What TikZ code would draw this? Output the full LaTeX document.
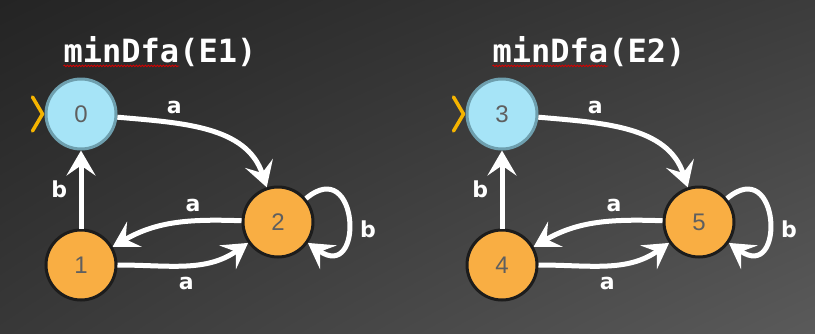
\documentclass[tikz,border=0pt]{standalone}
\usepackage{fontspec}
\setmainfont{Liberation Sans}
\newfontfamily\chalk{DejaVu Sans}
\newfontfamily\chalkmono{DejaVu Sans Mono}
\usepackage{xcolor}
\usetikzlibrary{arrows.meta,calc,shadings,decorations.pathmorphing}
\definecolor{boardTL}{HTML}{242424}
\definecolor{boardTR}{HTML}{3C3C3C}
\definecolor{boardBL}{HTML}{383838}
\definecolor{boardBR}{HTML}{5A5A5A}
\definecolor{ifill}{HTML}{A6E4F7}
\definecolor{iedge}{HTML}{6E9FAE}
\definecolor{qfill}{HTML}{F9AE43}
\definecolor{qedge}{HTML}{1C1C1C}
\definecolor{qtext}{HTML}{5F5F5F}
\definecolor{startc}{HTML}{F5B400}

\begin{document}
\begin{tikzpicture}[x=1pt,y=1pt,
  q/.style={circle,draw=qedge,fill=qfill,line width=3pt,minimum size=70pt,inner sep=0pt,text=qtext,font=\fontsize{24}{24}\selectfont},
  q0/.style={q,draw=iedge,fill=ifill},
  arr/.style={-{Stealth[length=25pt,width=29pt,inset=10pt]},line width=5pt,draw=white},
  lbl/.style={text=white,font=\chalk\bfseries\fontsize{22}{22}\selectfont},
  ttl/.style={text=white,inner sep=0pt,font=\chalkmono\bfseries\fontsize{32}{32}\selectfont},
  ini/.style={draw=startc,line width=3.5pt,line cap=round,line join=round},
  squig/.style={draw=red!85!black,line width=0.8pt,decorate,decoration={snake,amplitude=0.8pt,segment length=3pt}}]
\useasboundingbox (0,0) rectangle (815,-333);
\shade[upper left=boardTL,upper right=boardTR,lower left=boardBL,lower right=boardBR] (0,0) rectangle (815,-333);
% first automaton
\node[ttl] (t1) at (160,-52) {minDfa(E1)};
\draw[squig] ($(t1.base west)+(0,-3)$) -- ($(t1.base west)!0.6!(t1.base east)+(0,-3)$);
\node[q0] (s0) at (81,-114) {0};
\node[q] (s1) at (81,-265) {1};
\node[q] (s2) at (278,-222) {2};
\draw[ini] ([shift={(-12,17)}]s0.west) -- ([xshift=-2pt]s0.west) -- ([shift={(-12,-17)}]s0.west);
\draw[arr] (s0) to[out=-5,in=108] node[lbl,pos=.3,above=4pt] (l02) {a} (s2);
\draw[arr] (s1) -- node[lbl,left=8pt] (l10) {b} (s0);
\draw[arr] (s2) to[out=178,in=30] node[lbl,pos=.35,above=3pt] (l21) {a} (s1);
\draw[arr] (s1) to[out=0,in=215] node[lbl,below=6pt] (l12) {a} (s2);
\draw[arr] (s2) to[out=40,in=-35,looseness=4] node[lbl,right=6pt,yshift=-10pt] (l22) {b} (s2);
% second automaton
\node[ttl] (t2) at (589,-52) {minDfa(E2)};
\draw[squig] ($(t2.base west)+(0,-3)$) -- ($(t2.base west)!0.6!(t2.base east)+(0,-3)$);
\node[q0] (s3) at (502,-114) {3};
\node[q] (s4) at (502,-265) {4};
\node[q] (s5) at (699,-222) {5};
\draw[ini] ([shift={(-12,17)}]s3.west) -- ([xshift=-2pt]s3.west) -- ([shift={(-12,-17)}]s3.west);
\draw[arr] (s3) to[out=-5,in=108] node[lbl,pos=.3,above=4pt] (l35) {a} (s5);
\draw[arr] (s4) -- node[lbl,left=8pt] (l43) {b} (s3);
\draw[arr] (s5) to[out=178,in=30] node[lbl,pos=.35,above=3pt] (l54) {a} (s4);
\draw[arr] (s4) to[out=0,in=215] node[lbl,below=6pt] (l45) {a} (s5);
\draw[arr] (s5) to[out=40,in=-35,looseness=4] node[lbl,right=6pt,yshift=-10pt] (l55) {b} (s5);
\end{tikzpicture}
\end{document}
